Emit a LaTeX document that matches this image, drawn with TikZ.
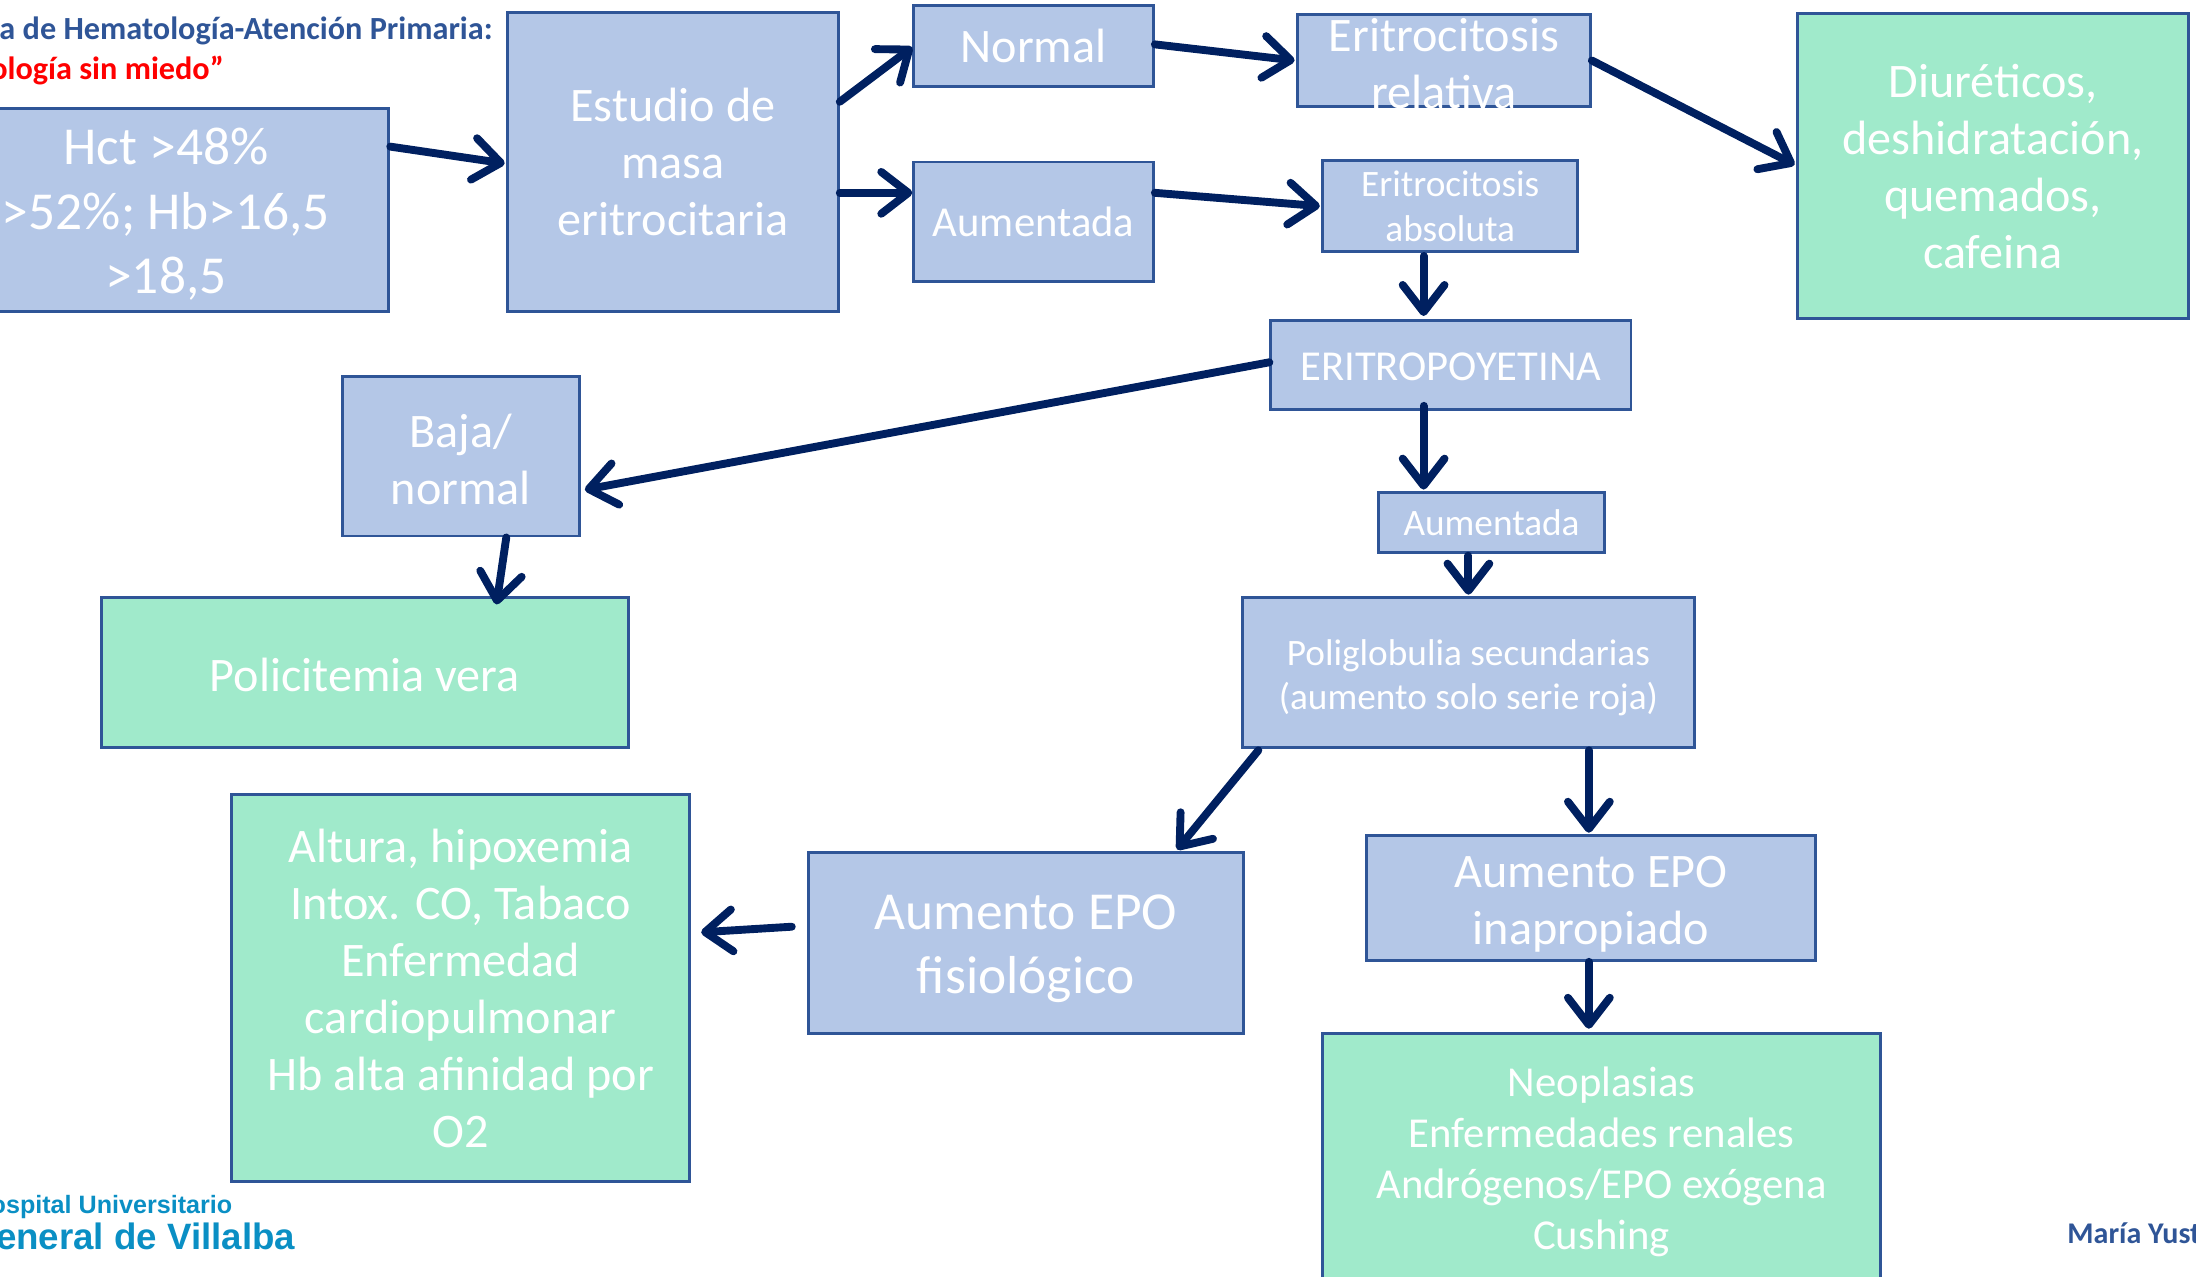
\documentclass[tikz,border=0pt]{standalone}
\usepackage{fontspec}
\setmainfont{Carlito}
\newfontfamily\logofont{Liberation Sans}
\usetikzlibrary{arrows.meta,positioning}
\definecolor{boxblue}{HTML}{B4C7E7}
\definecolor{boxgreen}{HTML}{A0EACB}
\definecolor{edgeblue}{HTML}{2F5597}
\definecolor{arrownavy}{HTML}{002060}
\definecolor{logoblue}{HTML}{0A8FC4}
\newcommand{\bigtxt}{\fontsize{10.85}{13.04}\selectfont}
\newcommand{\medtxt}{\fontsize{9.78}{11.6}\selectfont}
\newcommand{\smalltxt}{\fontsize{8.66}{10.35}\selectfont}
\newcommand{\tinytxt}{\fontsize{7.57}{9.07}\selectfont}
\newcommand{\drop}[1]{\rule{0pt}{#1pt}}
\begin{document}
\begin{tikzpicture}[x=0.01cm,y=-0.01cm]
\tikzstyle{main}=[rectangle, draw=edgeblue, line width=0.6pt, fill=boxblue, text=white, align=center, inner sep=0mm]
\tikzstyle{result}=[main, fill=boxgreen]
\tikzstyle{connect}=[-{Straight Barb[length=5.5pt,width=8.5pt,round]}, line width=1.6pt, draw=arrownavy, line cap=round]
\tikzstyle{head}=[font=\fontsize{6.55}{8}\selectfont\bfseries, inner sep=0mm]
\tikzstyle{logo}=[text=logoblue, inner sep=0mm]
  \useasboundingbox (-0.5,-0.7) rectangle (1567.5,911.1);
  % header and footer
  \node[head, text=edgeblue, anchor=east] (title) at (352,21.5) {a de Hematología-Atención Primaria:};
  \node[head, text=red, anchor=east] (motto) at (160,49.5) {ología sin miedo”};
  \node[logo, anchor=east, font=\logofont\bfseries\fontsize{5.1}{6}\selectfont] (hospital) at (166,861) {ospital Universitario};
  \node[logo, anchor=east, font=\logofont\bfseries\fontsize{7.45}{9}\selectfont] (villalba) at (211,882) {eneral de Villalba};
  \node[head, text=edgeblue, anchor=west, font=\fontsize{6.1}{8}\selectfont\bfseries] (speaker) at (1475,880) {María Yust};
  % top row
  \node[main, minimum width=3.18cm, minimum height=1.45cm, font=\bigtxt] (hct) at (118,149.5) {\drop{9.0}Hct >48\%\\>52\%; Hb>16,5\\>18,5};
  \node[main, minimum width=2.36cm, minimum height=2.14cm, font=\medtxt] (masa) at (480,115) {Estudio de\\masa\\eritrocitaria};
  \node[main, minimum width=1.71cm, minimum height=0.58cm, font=\medtxt] (normal) at (737.5,32) {Normal};
  \node[main, minimum width=1.71cm, minimum height=0.85cm, font=\smalltxt] (aumentada) at (737.5,157.5) {Aumentada};
  \node[main, minimum width=2.09cm, minimum height=0.65cm, label={[text=white, align=center, font=\medtxt, inner sep=0mm, yshift=-0.02cm]center:Eritrocitosis\\relativa}] (relativa) at (1030.5,42.5) {};
  \node[main, minimum width=1.82cm, minimum height=0.65cm, font=\tinytxt] (absoluta) at (1035,146.5) {Eritrocitosis\\absoluta};
  \node[result, minimum width=2.79cm, minimum height=2.18cm, font=\medtxt] (diureticos) at (1422.5,118) {Diuréticos,\\deshidratación,\\quemados,\\cafeina};
  % middle
  \node[main, minimum width=2.57cm, minimum height=0.64cm, font=\smalltxt] (epo) at (1035.5,260) {\drop{6.4}ERITROPOYETINA};
  \node[main, minimum width=1.69cm, minimum height=1.14cm, font=\medtxt] (baja) at (328.5,325) {\drop{8.0}Baja/\\normal};
  \node[main, minimum width=1.61cm, minimum height=0.43cm, font=\tinytxt] (aumentadaepo) at (1064.5,372.5) {Aumentada};
  \node[result, minimum width=3.76cm, minimum height=1.07cm, font=\medtxt] (vera) at (260,479.5) {\drop{7.85}Policitemia vera};
  \node[main, minimum width=3.22cm, minimum height=1.07cm, font=\tinytxt] (secundarias) at (1048,479.5) {\drop{7.4}Poliglobulia secundarias\\(aumento solo serie roja)};
  % bottom
  \node[main, minimum width=3.10cm, minimum height=1.29cm, font=\bigtxt] (fisio) at (732,672.5) {\drop{9.6}Aumento EPO\\fisiológico};
  \node[main, minimum width=3.21cm, minimum height=0.89cm, font=\medtxt] (inapropiado) at (1135.5,640.5) {\drop{8.9}Aumento EPO\\inapropiado};
  \node[result, minimum width=3.27cm, minimum height=2.76cm, font=\medtxt] (altura) at (328.5,705) {Altura, hipoxemia\\Intox. CO, Tabaco\\Enfermedad\\cardiopulmonar\\Hb alta afinidad por\\O2};
  \node[result, minimum width=3.98cm, minimum height=1.78cm, font=\smalltxt] (neoplasias) at (1143,826) {\drop{7.6}Neoplasias\\Enfermedades renales\\Andrógenos/EPO exógena\\Cushing};
  \path ([shift={(0,-45.5)}]hct.east) edge [connect] ([shift={(-1,1)}]masa.west)
        ([shift={(0,-43)}]masa.east) edge [connect] ([shift={(0,1)}]normal.west)
        ([shift={(0,22)}]masa.east) edge [connect] ([shift={(0,-20.5)}]aumentada.west)
        ([shift={(0,-1)}]normal.east) edge [connect] ([shift={(-1,0)}]relativa.west)
        ([shift={(0,-20.5)}]aumentada.east) edge [connect] ([shift={(-1,0)}]absoluta.west)
        (relativa.east) edge [connect] ([shift={(-1,-1)}]diureticos.west)
        ([shift={(-19,2)}]absoluta.south) edge [connect] ([shift={(-19.5,-2)}]epo.north)
        ([shift={(0,-2)}]epo.west) edge [connect] ([shift={(3,24)}]baja.east)
        ([shift={(-19.5,-4)}]epo.south) edge [connect] ([shift={(-48.5,-1)}]aumentadaepo.north)
        ([shift={(-16.5,1)}]aumentadaepo.south) edge [connect] ([shift={(0,-1)}]secundarias.north)
        ([shift={(32.5,0)}]baja.south) edge [connect] ([shift={(94,6)}]vera.north)
        ([shift={(-150,1)}]secundarias.south) edge [connect] ([shift={(108,-1)}]fisio.north)
        ([shift={(86,1)}]secundarias.south) edge [connect] ([shift={(-1.5,-1)}]inapropiado.north)
        ([shift={(-11,-11.5)}]fisio.west) edge [connect] ([shift={(7,-40)}]altura.east)
        ([shift={(-1.5,0)}]inapropiado.south) edge [connect] ([shift={(-9,-2)}]neoplasias.north);
\end{tikzpicture}
\end{document}
